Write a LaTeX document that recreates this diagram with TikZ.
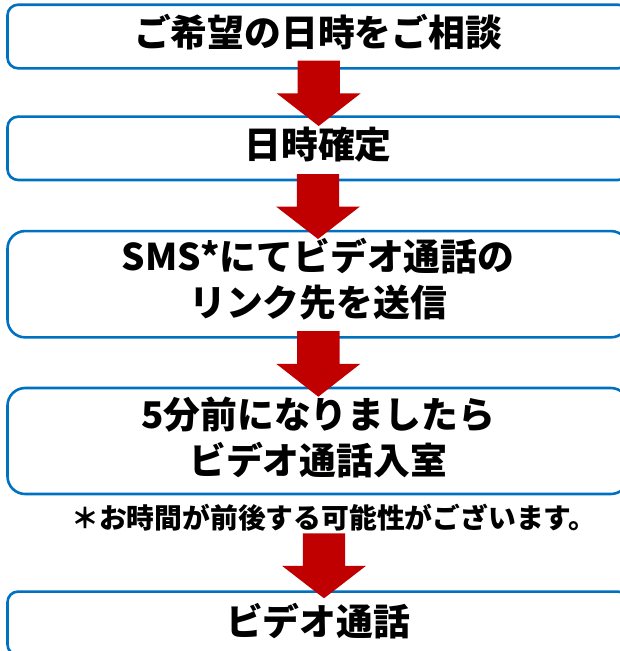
\documentclass[tikz,border=0pt]{standalone}
\usepackage{fontspec}
\setmainfont{Noto Sans CJK JP}
\definecolor{boxblue}{HTML}{0070C0}
\definecolor{arrowred}{HTML}{C00000}
\newcommand\flowarrow[3]{% x, top y, tip y
  \fill[arrowred] (#1-21.2,#2) -- (#1+21.2,#2) -- (#1+21.2,{(#2+#3)/2}) -- (#1+42,{(#2+#3)/2})
    -- (#1,#3) -- (#1-42,{(#2+#3)/2}) -- (#1-21.2,{(#2+#3)/2}) -- cycle;}
\begin{document}
\begin{tikzpicture}[x=1pt,y=-1pt,
  flowbox/.style={draw=boxblue, line width=2.6pt, rounded corners=#1, minimum width=621pt,
    inner sep=0pt},
  boxtext/.style={inner sep=0pt, align=center, font=\fontsize{36.8}{46}\selectfont\bfseries},
  notetext/.style={inner sep=0pt, font=\fontsize{27.8}{30}\selectfont\bfseries}]
\useasboundingbox (0,0) rectangle (619,651);
\node[flowbox=10.6pt, minimum height=63.6pt] (b1) at (318,36.5) {};
\node[flowbox=10.6pt, minimum height=63.3pt] (b2) at (318,148.3) {};
\node[flowbox=17.7pt, minimum height=106.3pt] (b3) at (318,284.2) {};
\node[flowbox=17.7pt, minimum height=106pt] (b4) at (318,441) {};
\node[flowbox=10.6pt, minimum height=63.5pt] (b5) at (318,623.3) {};
\node[boxtext] (t1) at ([yshift=4pt]b1.center) {ご希望の日時をご相談};
\node[boxtext] (t2) at ([yshift=4pt]b2.center) {日時確定};
\node[boxtext] (t3) at ([yshift=5pt]b3.center) {SMS*にてビデオ通話の\\リンク先を送信};
\node[boxtext] (t4) at ([yshift=4pt]b4.center) {5分前になりましたら\\ビデオ通話入室};
\node[boxtext] (t5) at ([yshift=2pt]b5.center) {ビデオ通話};
\node[notetext] (note) at (334,518) {＊お時間が前後する可能性がございます。};
\flowarrow{318.7}{60.7}{126}
\flowarrow{318}{174}{239}
\flowarrow{318.3}{331}{396.7}
\flowarrow{324}{533.3}{598.3}
\end{tikzpicture}
\end{document}
